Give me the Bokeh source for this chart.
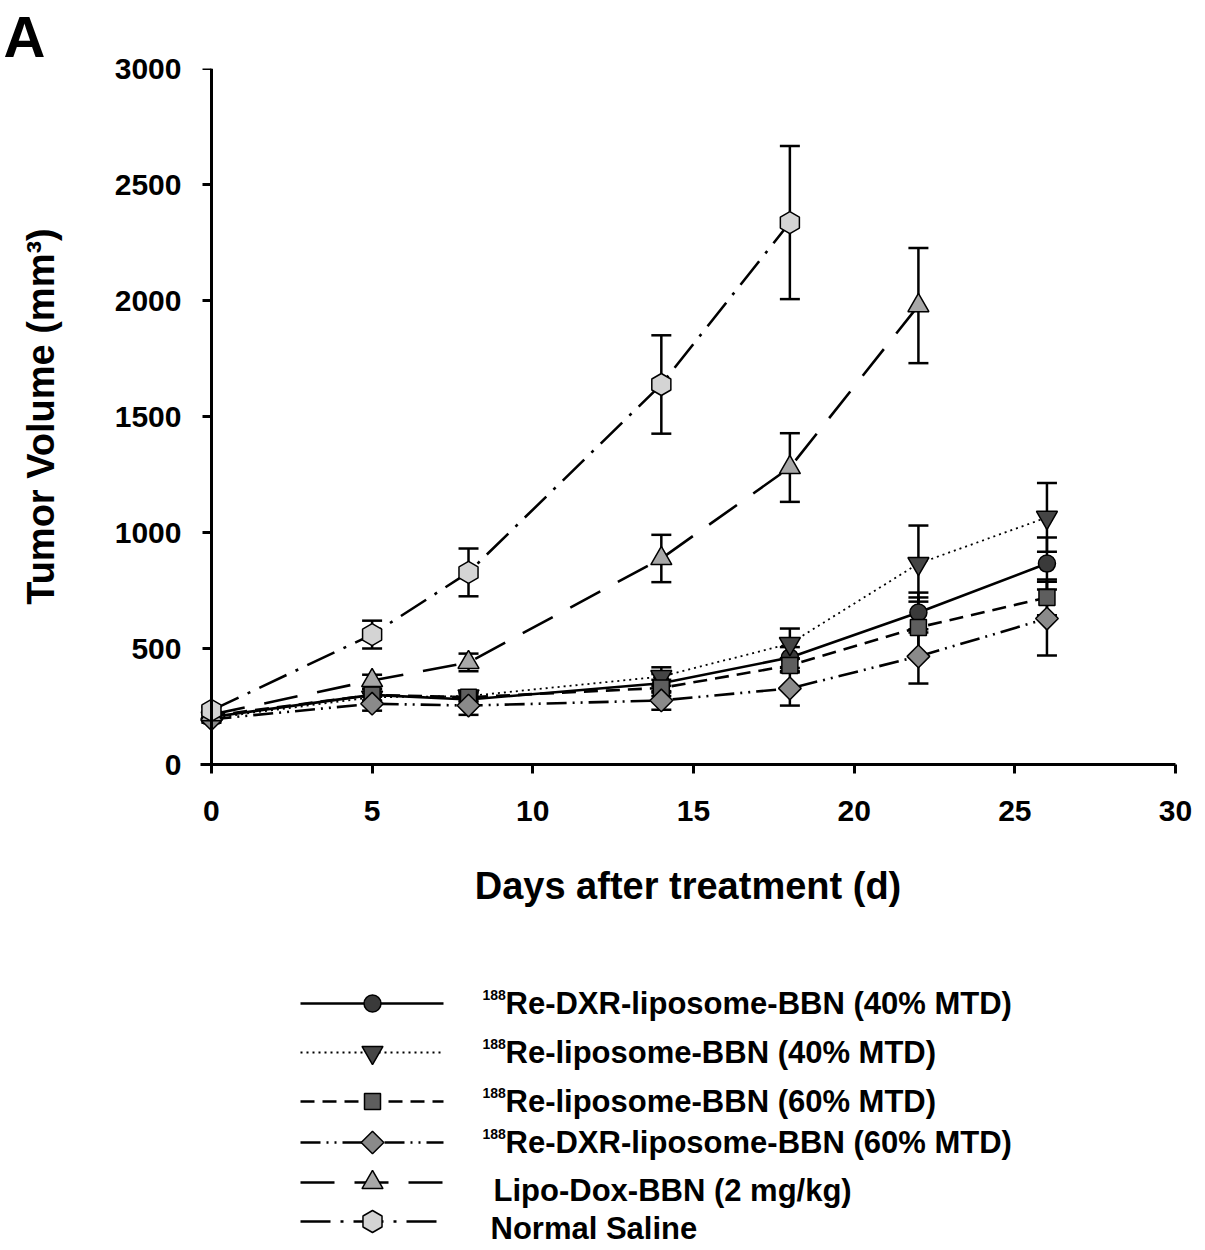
import numpy as np
from bokeh.plotting import figure
from bokeh.layouts import column
from bokeh.models import (ColumnDataSource, Whisker, TeeHead, Range1d,
                          FixedTicker, LinearAxis)
from bokeh.core.properties import value
from bokeh.embed import file_html
from bokeh.resources import INLINE

# days after treatment
days = [0, 5, 8, 14, 18, 22, 26]

# tumor volume (mm3), mean and error per group
dxr40 = [205, 300, 280, 350, 461, 655, 866]
dxr40_err = [15, 25, 25, 40, 45, 86, 112]

lipo40 = [200, 290, 295, 379, 521, 866, 1065]
lipo40_err = [15, 20, 20, 40, 65, 164, 148]

lipo60 = [210, 300, 290, 330, 427, 591, 720]
lipo60_err = [15, 25, 20, 35, 30, 129, 77]

dxr60 = [195, 262, 254, 276, 328, 466, 629]
dxr60_err = [15, 30, 40, 40, 74, 117, 159]

lipodox_days = [0, 5, 8, 14, 18, 22]
lipodox = [215, 362, 440, 888, 1280, 1978]
lipodox_err = [15, 25, 38, 102, 148, 248]

saline_days = [0, 5, 8, 14, 18]
saline = [233, 560, 828, 1638, 2336]
saline_err = [15, 60, 103, 212, 330]

x_ticks = [0, 5, 10, 15, 20, 25, 30]
y_ticks = [0, 500, 1000, 1500, 2000, 2500, 3000]

sups = ["188", "188", "188", "188", "", ""]
labels = ["Re-DXR-liposome-BBN (40% MTD)",
          "Re-liposome-BBN (40% MTD)",
          "Re-liposome-BBN (60% MTD)",
          "Re-DXR-liposome-BBN (60% MTD)",
          "Lipo-Dox-BBN (2 mg/kg)",
          "Normal Saline"]

FONT = "Liberation Sans"

# style per group: marker, size, fill, dash, line width, angle
styles = [
    ("circle", 17, "#3a3a3a", "solid", 2.6, 0),
    ("inverted_triangle", 21, "#454545", "2 4", 1.8, 0),
    ("square", 16, "#5e5e5e", "14 8", 2.6, 0),
    ("square", 16, "#8a8a8a", "20 6 2 6 2 6", 2.6, np.pi / 4),
    ("triangle", 21, "#a8a8a8", "34 20", 2.6, 0),
    ("hex", 22, "#d4d4d4", "30 10 3 10", 2.6, np.pi / 6),
]

groups = [
    (days, dxr40, dxr40_err),
    (days, lipo40, lipo40_err),
    (days, lipo60, lipo60_err),
    (days, dxr60, dxr60_err),
    (lipodox_days, lipodox, lipodox_err),
    (saline_days, saline, saline_err),
]

W = 1200
p = figure(width=W, height=930,
           x_range=Range1d(-0.34, 30), y_range=Range1d(0, 3000),
           output_backend="svg", toolbar_location=None,
           min_border_left=200, min_border_right=25,
           min_border_top=68, min_border_bottom=166)
p.outline_line_color = None
p.grid.visible = False

# panel letter
p.title.text = "A"
p.title.align = "left"
p.title.offset = -197
p.title.standoff = 0
p.title.text_font = FONT
p.title.text_font_style = "bold"
p.title.text_font_size = "58px"
p.title.text_color = "black"

# y axis line and ticks sit at x = 0
yline = LinearAxis(fixed_location=0, ticker=FixedTicker(ticks=y_ticks),
                   axis_line_width=3, major_tick_line_width=3,
                   major_tick_out=9, major_tick_in=0,
                   minor_tick_line_color=None, major_label_text_color=None)
p.add_layout(yline, "left")

p.xaxis.ticker = FixedTicker(ticks=x_ticks)
p.yaxis[0].ticker = FixedTicker(ticks=y_ticks)
for ax in [p.xaxis[0], p.yaxis[0]]:
    ax.axis_line_width = 3
    ax.major_tick_line_width = 3
    ax.major_tick_out = 9
    ax.major_tick_in = 0
    ax.minor_tick_line_color = None
    ax.major_label_text_font = FONT
    ax.major_label_text_font_style = "bold"
    ax.major_label_text_font_size = "30px"
    ax.major_label_text_color = "black"
    ax.axis_label_text_font = FONT
    ax.axis_label_text_font_style = "bold"
    ax.axis_label_text_font_size = "38px"
    ax.axis_label_text_color = "black"

# left axis only carries the labels
p.yaxis[0].axis_line_color = None
p.yaxis[0].major_tick_line_color = None
p.yaxis[0].major_tick_out = 0
p.yaxis[0].major_label_standoff = 19
p.yaxis[0].axis_label_standoff = 50

p.xaxis.axis_label = "Days after treatment (d)"
p.yaxis[0].axis_label = "Tumor Volume (mm\u00b3)"
p.xaxis.major_label_standoff = 27
p.xaxis.axis_label_standoff = 41

for (xs, ys, es), (mk, sz, fill, dash, lw, ang) in zip(groups, styles):
    src = ColumnDataSource(dict(
        x=xs, y=ys,
        upper=[v + e for v, e in zip(ys, es)],
        lower=[v - e for v, e in zip(ys, es)]))
    p.line("x", "y", source=src, line_color="black", line_width=lw,
           line_dash=dash)
    w = Whisker(source=src, base="x", upper="upper", lower="lower",
                line_width=2.5, line_color="black", level="underlay",
                upper_head=TeeHead(size=20, line_width=2.5),
                lower_head=TeeHead(size=20, line_width=2.5))
    p.add_layout(w)
    p.scatter("x", "y", source=src, marker=mk, size=sz, fill_color=fill,
              line_color="black", line_width=1.5, angle=ang)

# legend drawn below the plot, frame aligned with the main plot
leg = figure(width=W, height=318,
             x_range=Range1d(200, 1175), y_range=Range1d(1248, 930),
             output_backend="svg", toolbar_location=None,
             x_axis_location=None, y_axis_location=None,
             min_border_left=200, min_border_right=25,
             min_border_top=0, min_border_bottom=0)
leg.outline_line_color = None
leg.grid.visible = False

row_y = [1003, 1052, 1101, 1142, 1182, 1221]
text_dy = [0, 0, 0, 0, 8, 7]
text_x = [505, 505, 505, 505, 493, 490]
for i, (mk, sz, fill, dash, lw, ang) in enumerate(styles):
    y = row_y[i]
    leg.segment(x0=[300], y0=[y], x1=[443], y1=[y], line_color="black",
                line_width=lw, line_dash=dash)
    leg.scatter([372], [y], marker=mk, size=sz, fill_color=fill,
                line_color="black", line_width=1.5, angle=ang)
    if sups[i]:
        leg.text([482], [y - 9], text=[sups[i]], text_font=value(FONT),
                 text_font_style="bold", text_font_size="14px",
                 text_baseline="middle")
    leg.text([text_x[i]], [y + text_dy[i]], text=[labels[i]],
             text_font=value(FONT), text_font_style="bold",
             text_font_size="31px", text_baseline="middle")

layout = column(p, leg)
open("out.html", "w").write(file_html(layout, INLINE))
